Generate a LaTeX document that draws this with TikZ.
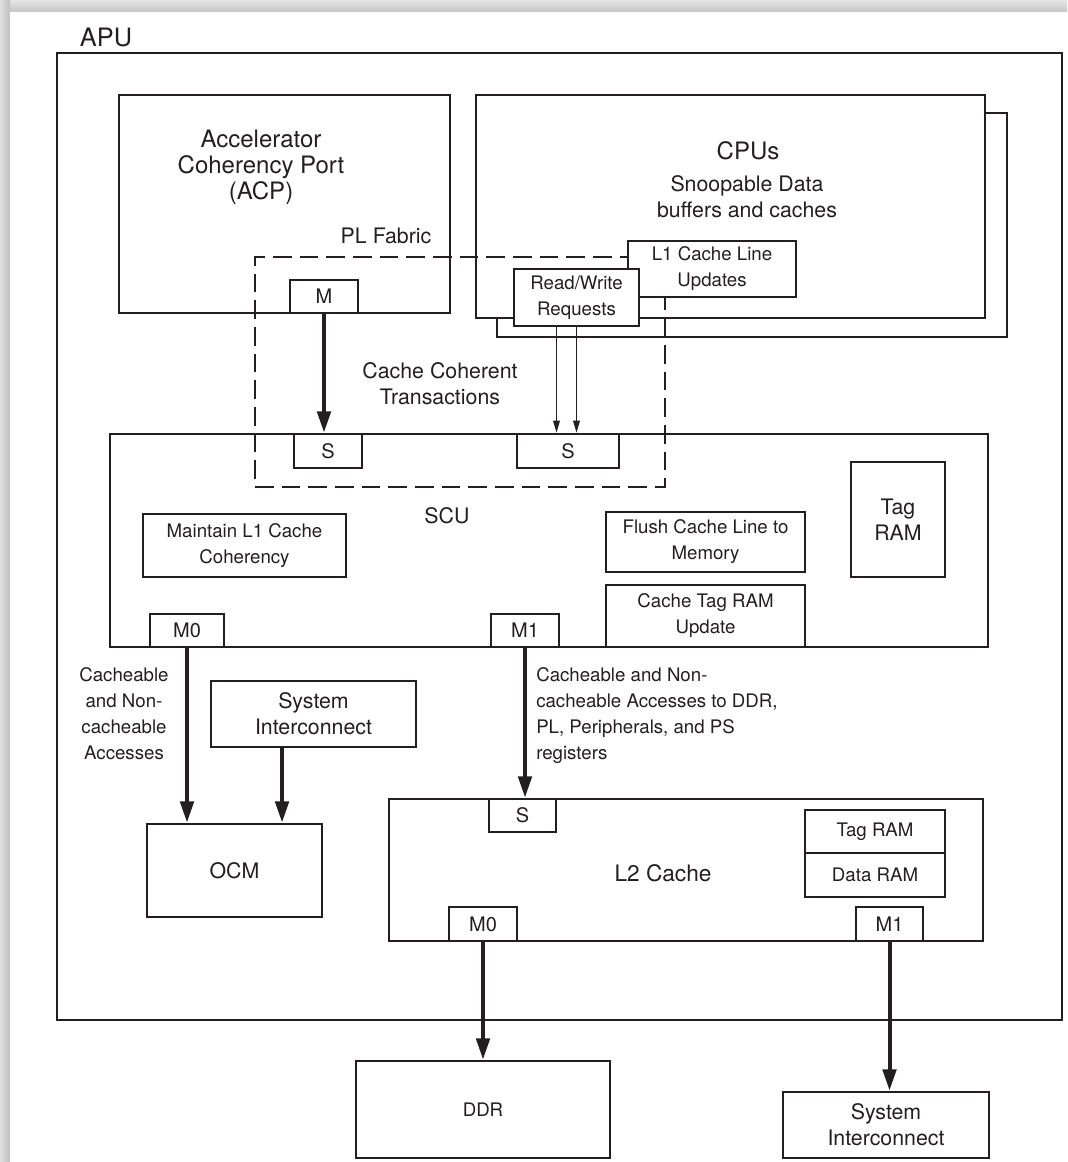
\documentclass[tikz,border=0pt]{standalone}
\usepackage{fontspec}
\setmainfont{TeX Gyre Heros}
\usetikzlibrary{arrows.meta,fit}
\definecolor{ink}{RGB}{35,31,32}
\tikzset{
  blk/.style={draw=ink, line width=2pt, fill=white, inner sep=0pt},
  txt/.style={inner sep=0pt, align=center, text=ink},
  fhuge/.style={font=\fontsize{18}{19.5}\selectfont},
  fbig/.style={font=\fontsize{16}{19.5}\selectfont},
  fsmall/.style={font=\fontsize{14}{19.5}\selectfont},
  fport/.style={font=\fontsize{15}{18}\selectfont},
  heavy/.style={draw=ink, line width=3pt, -{Triangle[length=16pt,width=10pt]}},
  light/.style={draw=ink, line width=1pt, -{Triangle[length=9pt,width=5pt]}},
  fabric/.style={draw=ink, line width=2pt, dash pattern=on 14pt off 6pt, inner sep=0pt},
}
\begin{document}
\begin{tikzpicture}[x=0.75pt,y=-0.75pt]
\useasboundingbox (0,0) rectangle (1067,1162);
% page with its drop shadow
\shade[top color=gray!20, bottom color=gray!45] (0,0) rectangle (1067,12);
\shade[left color=gray!25, right color=gray!50] (0,0) rectangle (10,1162);
\fill[white] (10,12) rectangle (1067,1162);

% APU frame
\node[txt, font=\fontsize{19}{22}\selectfont] (apulbl) at (106,37) {APU};
\node[blk, fit={(57,53) (1062,1020)}] (apu) {};

% ACP
\node[blk, fit={(119,95) (450,313)}] (acp) {};
\node[txt, fhuge] (acptxt) at (261,167) {Accelerator\\Coherency Port\\(ACP)};
\node[blk, fit={(290,280) (358,313)}] (m) {};
\node[txt, fport] (mtxt) at (m.center) {M};

% CPUs (stacked)
\node[blk, fit={(497,113) (1007,337)}] (cpuback) {};
\node[blk, fit={(476,95) (985,318)}] (cpu) {};
\node[txt, fhuge] (cputitle) at (748,151) {CPUs};
\node[txt, fbig] (cputxt) at (747,197) {Snoopable Data\\buffers and caches};

% SCU
\node[blk, fit={(110,434) (988,647)}] (scu) {};
\node[txt, fbig] (scutxt) at (447,516) {SCU};
\node[blk, fit={(294,434) (362,468)}] (s1) {};
\node[txt, fport] (s1txt) at (s1.center) {S};
\node[blk, fit={(517,434) (619,468)}] (s2) {};
\node[txt, fport] (s2txt) at (s2.center) {S};
\node[blk, fit={(851,462) (945,577)}] (tagram) {};
\node[txt, fbig] (tagramtxt) at (tagram.center) {Tag\\RAM};
\node[blk, fit={(143,514) (346,577)}] (maint) {};
\node[txt, fsmall] (mainttxt) at (maint.center) {Maintain L1 Cache\\Coherency};
\node[blk, fit={(606,512) (805,572)}] (flush) {};
\node[txt, fsmall] (flushtxt) at (flush.center) {Flush Cache Line to\\Memory};
\node[blk, fit={(606,585) (805,647)}] (ctru) {};
\node[txt, fsmall] (ctrutxt) at (ctru.center) {Cache Tag RAM\\Update};
\node[blk, fit={(150,614) (224,647)}] (m0) {};
\node[txt, fport] (m0txt) at (m0.center) {M0};
\node[blk, fit={(491,614) (559,647)}] (m1) {};
\node[txt, fport] (m1txt) at (m1.center) {M1};

% PL fabric region
\node[fabric, fit={(255,257) (665,487)}] (pl) {};
\node[txt, fbig] (pltxt) at (386,236) {PL Fabric};
\node[txt, fbig] (cct) at (440,384) {Cache Coherent\\Transactions};

% CPU-side request/update boxes
\node[blk, fit={(628,241) (796,297)}] (l1) {};
\node[txt, fsmall] (l1txt) at (l1.center) {L1 Cache Line\\Updates};
\node[blk, fit={(514,269) (639,326)}] (rw) {};
\node[txt, fsmall] (rwtxt) at (rw.center) {Read/Write\\Requests};

% lower part
\node[blk, fit={(211,681) (416,747)}] (si) {};
\node[txt, fbig] (sitxt) at (si.center) {System\\Interconnect};
\node[blk, fit={(147,824) (322,917)}] (ocm) {};
\node[txt, fbig] (ocmtxt) at (ocm.center) {OCM};
\node[txt, fsmall] (acc0) at (124,714) {Cacheable\\and Non-\\cacheable\\Accesses};
\node[txt, fsmall, align=left, anchor=west] (acc1) at (536,716)
  {Cacheable and Non-\\cacheable Accesses to DDR,\\PL, Peripherals, and PS\\registers};

\node[blk, fit={(389,799) (983,941)}] (l2) {};
\node[txt, font=\fontsize{17}{20}\selectfont] (l2txt) at (663,873) {L2 Cache};
\node[blk, fit={(489,799) (556,832)}] (l2s) {};
\node[txt, fport] (l2stxt) at (l2s.center) {S};
\node[blk, fit={(805,810) (945,853)}] (l2tag) {};
\node[txt, fsmall] (l2tagtxt) at (l2tag.center) {Tag RAM};
\node[blk, fit={(805,853) (945,897)}] (l2data) {};
\node[txt, fsmall] (l2datatxt) at (l2data.center) {Data RAM};
\node[blk, fit={(449,907) (517,941)}] (l2m0) {};
\node[txt, fport] (l2m0txt) at (l2m0.center) {M0};
\node[blk, fit={(856,907) (923,941)}] (l2m1) {};
\node[txt, fport] (l2m1txt) at (l2m1.center) {M1};

\node[blk, fit={(356,1061) (610,1158)}] (ddr) {};
\node[txt, fsmall] (ddrtxt) at (ddr.center) {DDR};
\node[blk, fit={(783,1092) (989,1158)}] (si2) {};
\node[txt, fbig] (si2txt) at (si2.center) {System\\Interconnect};

% connectors
\draw[heavy] (m.south) -- (m.south |- s1.north);
\draw[light] ([xshift=-15pt]rw.south) -- ([xshift=-15pt]rw.south |- s2.north);
\draw[light] (rw.south) -- (rw.south |- s2.north);
\draw[heavy] (m0.south) -- (m0.south |- ocm.north);
\draw[heavy] ([xshift=-23.6pt]si.south) -- ([xshift=-23.6pt]si.south |- ocm.north);
\draw[heavy] (m1.south) -- (m1.south |- l2s.north);
\draw[heavy] (l2m0.south) -- (l2m0.south |- ddr.north);
\draw[heavy] (l2m1.south) -- (l2m1.south |- si2.north);
\end{tikzpicture}
\end{document}
